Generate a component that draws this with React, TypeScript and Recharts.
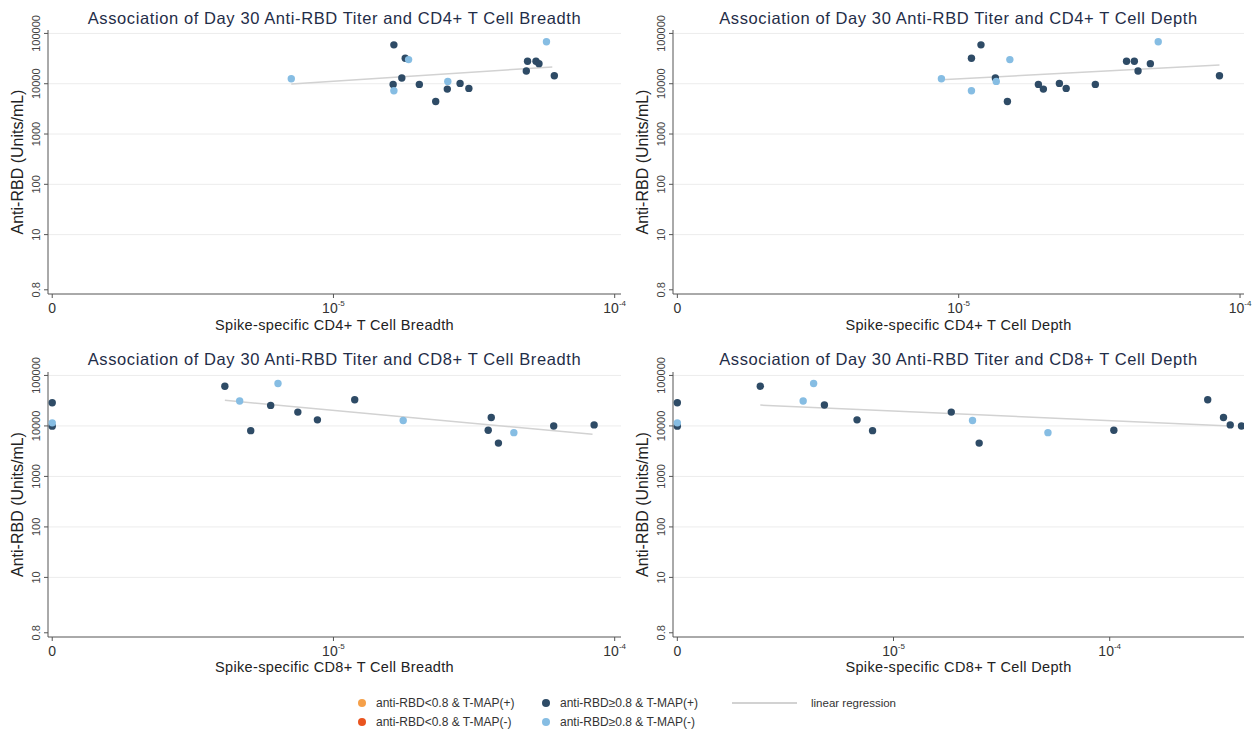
import { ScatterChart, Scatter, XAxis, YAxis, ReferenceLine, Label } from 'recharts';

const FONT = '"Liberation Sans", Arial, Helvetica, sans-serif';
const DARK = '#2e4b66';
const LIGHT = '#86bde3';
const ORANGE = '#f5a04a';
const RED = '#e9541f';
const FIT = '#d2d2d2';
const AXIS = '#555555';
const TITLE = '#1f2d48';

// zero values are drawn at the origin of the log axis, labelled "0"
const ZERO_AT = 1e-6;
const xTicks = [1e-6, 1e-5, 1e-4];
const yTicks = [0.8, 10, 100, 1000, 10000, 100000];
const gridValues = [10, 100, 1000, 10000, 100000];
const yDomain = [0.66, 117000];

type Pt = { x: number; y: number };

// CD4+ breadth
const cd4BreadthPos: Pt[] = [
    { x: 1.64e-5, y: 59300 }, { x: 1.8e-5, y: 32100 }, { x: 1.63e-5, y: 9700 },
    { x: 1.75e-5, y: 12980 }, { x: 2.02e-5, y: 9700 }, { x: 2.31e-5, y: 4430 },
    { x: 2.54e-5, y: 7820 }, { x: 2.82e-5, y: 10150 }, { x: 3.03e-5, y: 8070 },
    { x: 4.9e-5, y: 28000 }, { x: 4.85e-5, y: 17900 }, { x: 5.25e-5, y: 28000 },
    { x: 5.38e-5, y: 25100 }, { x: 6.1e-5, y: 14450 },
];
const cd4BreadthNeg: Pt[] = [
    { x: 7.08e-6, y: 12600 }, { x: 1.85e-5, y: 30200 }, { x: 1.64e-5, y: 7240 },
    { x: 2.55e-5, y: 11130 }, { x: 5.72e-5, y: 68100 },
];
const cd4BreadthFit: Pt[] = [{ x: 7.08e-6, y: 9840 }, { x: 6.0e-5, y: 21550 }];

// CD4+ depth
const cd4DepthPos: Pt[] = [
    { x: 1.11e-5, y: 32100 }, { x: 1.2e-5, y: 59300 }, { x: 1.35e-5, y: 12980 },
    { x: 1.49e-5, y: 4430 }, { x: 1.92e-5, y: 9700 }, { x: 2.0e-5, y: 7820 },
    { x: 2.28e-5, y: 10150 }, { x: 2.41e-5, y: 8070 }, { x: 3.06e-5, y: 9700 },
    { x: 3.95e-5, y: 28000 }, { x: 4.21e-5, y: 28000 }, { x: 4.34e-5, y: 17900 },
    { x: 4.8e-5, y: 25100 }, { x: 8.45e-5, y: 14450 },
];
const cd4DepthNeg: Pt[] = [
    { x: 8.68e-6, y: 12600 }, { x: 1.11e-5, y: 7240 }, { x: 1.52e-5, y: 30200 },
    { x: 1.36e-5, y: 11130 }, { x: 5.12e-5, y: 68100 },
];
const cd4DepthFit: Pt[] = [{ x: 8.68e-6, y: 12000 }, { x: 8.45e-5, y: 23600 }];

// CD8+ breadth
const cd8BreadthPos: Pt[] = [
    { x: 0, y: 28800 }, { x: 0, y: 9900 }, { x: 4.11e-6, y: 61200 },
    { x: 5.08e-6, y: 8070 }, { x: 5.98e-6, y: 25500 }, { x: 7.47e-6, y: 18800 },
    { x: 8.77e-6, y: 13200 }, { x: 1.19e-5, y: 33100 }, { x: 3.55e-5, y: 8190 },
    { x: 3.64e-5, y: 14680 }, { x: 3.86e-5, y: 4570 }, { x: 6.07e-5, y: 10000 },
    { x: 8.45e-5, y: 10470 },
];
const cd8BreadthNeg: Pt[] = [
    { x: 0, y: 11500 }, { x: 4.64e-6, y: 31100 }, { x: 6.35e-6, y: 69200 },
    { x: 1.77e-5, y: 12790 }, { x: 4.38e-5, y: 7360 },
];
const cd8BreadthFit: Pt[] = [{ x: 4.11e-6, y: 32100 }, { x: 8.34e-5, y: 6810 }];

// CD8+ depth
const cd8DepthPos: Pt[] = [
    { x: 0, y: 28800 }, { x: 0, y: 9900 }, { x: 2.42e-6, y: 61200 },
    { x: 4.79e-6, y: 25900 }, { x: 6.78e-6, y: 13200 }, { x: 8.0e-6, y: 8070 },
    { x: 1.85e-5, y: 18800 }, { x: 2.49e-5, y: 4570 }, { x: 1.045e-4, y: 8190 },
    { x: 2.84e-4, y: 33100 }, { x: 3.36e-4, y: 14680 }, { x: 3.61e-4, y: 10470 },
    { x: 4.07e-4, y: 10000 },
];
const cd8DepthNeg: Pt[] = [
    { x: 0, y: 11500 }, { x: 3.82e-6, y: 31100 }, { x: 4.27e-6, y: 69200 },
    { x: 2.32e-5, y: 12790 }, { x: 5.18e-5, y: 7360 },
];
const cd8DepthFit: Pt[] = [{ x: 2.42e-6, y: 25900 }, { x: 3.61e-4, y: 10000 }];

const panels = [
    {
        title: 'Association of Day 30 Anti-RBD Titer and CD4+ T Cell Breadth',
        xTitle: 'Spike-specific CD4+ T Cell Breadth',
        left: 0, top: 0, plotLeft: 48, right: 9, plotTop: 30, xAxisHeight: 46, titleTop: 10, xTitleOffset: 10,
        xDomain: [9.66e-7, 1.053e-4], pos: cd4BreadthPos, neg: cd4BreadthNeg, fit: cd4BreadthFit,
    },
    {
        title: 'Association of Day 30 Anti-RBD Titer and CD4+ T Cell Depth',
        xTitle: 'Spike-specific CD4+ T Cell Depth',
        left: 630, top: 0, plotLeft: 43, right: 16, plotTop: 30, xAxisHeight: 46, titleTop: 10, xTitleOffset: 10,
        xDomain: [9.65e-7, 1.033e-4], pos: cd4DepthPos, neg: cd4DepthNeg, fit: cd4DepthFit,
    },
    {
        title: 'Association of Day 30 Anti-RBD Titer and CD8+ T Cell Breadth',
        xTitle: 'Spike-specific CD8+ T Cell Breadth',
        left: 0, top: 340, plotLeft: 48, right: 9, plotTop: 32, xAxisHeight: 43, titleTop: 11, xTitleOffset: 8,
        xDomain: [9.66e-7, 1.053e-4], pos: cd8BreadthPos, neg: cd8BreadthNeg, fit: cd8BreadthFit,
    },
    {
        title: 'Association of Day 30 Anti-RBD Titer and CD8+ T Cell Depth',
        xTitle: 'Spike-specific CD8+ T Cell Depth',
        left: 630, top: 340, plotLeft: 43, right: 16, plotTop: 32, xAxisHeight: 43, titleTop: 11, xTitleOffset: 8,
        xDomain: [9.55e-7, 4.18e-4], pos: cd8DepthPos, neg: cd8DepthNeg, fit: cd8DepthFit,
    },
];

const xValue = (d: Pt) => (d.x === 0 ? ZERO_AT : d.x);

const XTick = (props: any) => {
    const { x, y, payload } = props;
    const v = payload.value;
    if (v === ZERO_AT) {
        return (
            <text x={x} y={y} dy={13} textAnchor="middle" fontSize={14} fill="#333" fontFamily={FONT}>0</text>
        );
    }
    const exp = Math.round(Math.log10(v));
    return (
        <text x={x} y={y} dy={13} textAnchor="middle" fontSize={14} fill="#333" fontFamily={FONT}>
            <tspan>10</tspan>
            <tspan dy={-7} fontSize={8}>{exp}</tspan>
        </text>
    );
};

const YTick = (props: any) => {
    const { x, y, payload } = props;
    const cx = x - 6;
    return (
        <text x={cx} y={y} dy="0.36em" textAnchor="middle" fontSize={11} fill="#444" fontFamily={FONT}
            transform={`rotate(-90 ${cx} ${y})`}>
            {payload.value}
        </text>
    );
};

const YTitle = (props: any) => {
    const { viewBox } = props;
    const cx = viewBox.x - 1;
    const cy = viewBox.y + viewBox.height / 2;
    return (
        <text x={cx} y={cy} dy="0.36em" textAnchor="middle" fontSize={16} fill="#222" fontFamily={FONT}
            transform={`rotate(-90 ${cx} ${cy})`}>
            Anti-RBD (Units/mL)
        </text>
    );
};

function Panel({ p }: { p: (typeof panels)[number] }) {
    const plotWidth = 630 - p.plotLeft - p.right;
    return (
        <div style={{ position: 'absolute', left: p.left, top: p.top, width: 630, height: 340 }}>
            <div
                style={{
                    position: 'absolute', left: p.plotLeft, width: plotWidth, top: p.titleTop,
                    textAlign: 'center', fontSize: 16.5, lineHeight: '16px', letterSpacing: 0.6,
                    color: TITLE, fontFamily: FONT, whiteSpace: 'nowrap',
                }}
            >
                {p.title}
            </div>
            <ScatterChart
                width={630}
                height={340}
                margin={{ top: p.plotTop, right: p.right, bottom: 0, left: p.plotLeft - 30 }}
                style={{ overflow: 'visible' }}
            >
                {gridValues.map((v) => (
                    <ReferenceLine key={v} y={v} stroke="#ececec" strokeWidth={1} />
                ))}
                <XAxis
                    type="number"
                    dataKey={xValue}
                    scale="log"
                    domain={p.xDomain}
                    allowDataOverflow
                    ticks={xTicks}
                    interval={0}
                    tick={<XTick />}
                    tickSize={4}
                    height={p.xAxisHeight}
                    stroke={AXIS}
                >
                    <Label
                        value={p.xTitle}
                        position="insideBottom"
                        offset={p.xTitleOffset}
                        style={{ fontSize: 14.5, letterSpacing: 0.35, fill: '#222', fontFamily: FONT }}
                    />
                </XAxis>
                <YAxis
                    type="number"
                    dataKey="y"
                    scale="log"
                    domain={yDomain}
                    allowDataOverflow
                    ticks={yTicks}
                    interval={0}
                    tick={<YTick />}
                    tickSize={4}
                    width={30}
                    stroke={AXIS}
                >
                    <Label content={<YTitle />} />
                </YAxis>
                <Scatter
                    data={p.fit}
                    line={{ stroke: FIT, strokeWidth: 1.5 }}
                    shape={() => <g />}
                    isAnimationActive={false}
                />
                <Scatter data={p.pos} fill={DARK} shape={(s: any) => <circle cx={s.cx} cy={s.cy} r={3.7} fill={DARK} />} isAnimationActive={false} />
                <Scatter data={p.neg} fill={LIGHT} shape={(s: any) => <circle cx={s.cx} cy={s.cy} r={3.7} fill={LIGHT} />} isAnimationActive={false} />
            </ScatterChart>
        </div>
    );
}

const legendItems = [
    { label: 'anti-RBD<0.8 & T-MAP(+)', color: ORANGE, left: 358, top: 703 },
    { label: 'anti-RBD<0.8 & T-MAP(-)', color: RED, left: 358, top: 722 },
    { label: 'anti-RBD\u22650.8 & T-MAP(+)', color: DARK, left: 542, top: 703 },
    { label: 'anti-RBD\u22650.8 & T-MAP(-)', color: LIGHT, left: 542, top: 722 },
];

export default function App() {
    return (
        <div style={{ position: 'absolute', left: 0, top: 0, width: 1259, height: 732, background: '#fff', fontFamily: FONT }}>
            {panels.map((p) => (
                <Panel key={p.title} p={p} />
            ))}
            {legendItems.map((it) => (
                <div key={it.label} style={{ position: 'absolute', left: it.left, top: it.top - 7, height: 14, display: 'flex', alignItems: 'center', fontSize: 12, color: '#333' }}>
                    <span style={{ width: 8, height: 8, borderRadius: 4, background: it.color, display: 'inline-block', marginRight: 10 }} />
                    <span>{it.label}</span>
                </div>
            ))}
            <div style={{ position: 'absolute', left: 732, top: 696, height: 14, display: 'flex', alignItems: 'center', fontSize: 11.5, color: '#333' }}>
                <span style={{ width: 65, height: 1.5, background: FIT, display: 'inline-block', marginRight: 14 }} />
                <span>linear regression</span>
            </div>
        </div>
    );
}
